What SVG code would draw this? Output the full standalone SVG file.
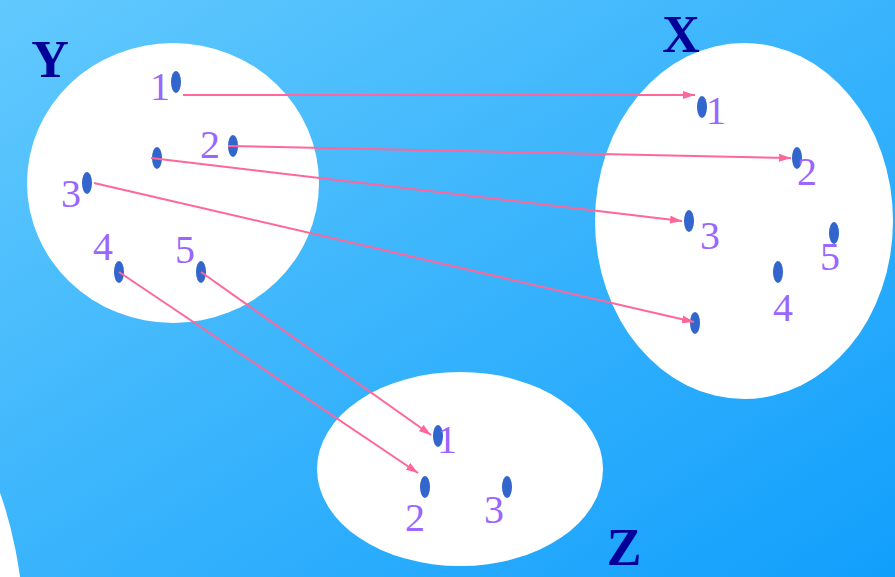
<svg xmlns="http://www.w3.org/2000/svg" width="895" height="577" viewBox="0 0 895 577">
<defs>
<linearGradient id="bg" x1="0" y1="0" x2="1" y2="1">
<stop offset="0" stop-color="#62c9fd"/>
<stop offset="1" stop-color="#119ffc"/>
</linearGradient>
<marker id="ah" viewBox="0 0 12 8" refX="12" refY="4" markerWidth="12" markerHeight="8" markerUnits="userSpaceOnUse" orient="auto">
<path d="M0,0 L12,4 L0,8 Z" fill="#ff6699"/>
</marker>
<style>
.set{fill:#ffffff}
.dot{fill:#3366cc}
.num{font-family:"Liberation Serif","Times New Roman",serif;font-size:40px;fill:#9966ff;text-anchor:middle}
.lbl{font-family:"Liberation Serif","Times New Roman",serif;font-size:52px;font-weight:bold;fill:#000099;text-anchor:middle}
.arr{stroke:#ff6699;stroke-width:2;fill:none;marker-end:url(#ah)}
</style>
</defs>
<rect x="0" y="0" width="895" height="577" fill="url(#bg)"/>
<ellipse class="set" cx="-100" cy="650" rx="125" ry="262"/>
<g id="setY">
<ellipse class="set" cx="173" cy="183" rx="146" ry="140"/>
<text class="lbl" x="50" y="77">Y</text>
</g>
<g id="setX">
<ellipse class="set" cx="744" cy="221" rx="149" ry="178"/>
<text class="lbl" x="681" y="52">X</text>
</g>
<g id="setZ">
<ellipse class="set" cx="460" cy="469" rx="143" ry="97"/>
<text class="lbl" x="624" y="565">Z</text>
</g>
<g id="y1"><ellipse class="dot" cx="176" cy="82" rx="5" ry="11"/><text class="num" x="160" y="100">1</text></g>
<g id="y2"><ellipse class="dot" cx="233" cy="146" rx="5" ry="11"/><text class="num" x="210" y="158">2</text></g>
<g id="y0"><ellipse class="dot" cx="157" cy="158" rx="5" ry="11"/></g>
<g id="y3"><ellipse class="dot" cx="87" cy="183" rx="5" ry="11"/><text class="num" x="71" y="207">3</text></g>
<g id="y4"><ellipse class="dot" cx="119" cy="272" rx="5" ry="11"/><text class="num" x="103" y="260">4</text></g>
<g id="y5"><ellipse class="dot" cx="201" cy="272" rx="5" ry="11"/><text class="num" x="185" y="263">5</text></g>
<g id="x1"><ellipse class="dot" cx="702" cy="107" rx="5" ry="11"/><text class="num" x="716" y="124">1</text></g>
<g id="x2"><ellipse class="dot" cx="797" cy="158" rx="5" ry="11"/><text class="num" x="807" y="185">2</text></g>
<g id="x3"><ellipse class="dot" cx="689" cy="221" rx="5" ry="11"/><text class="num" x="710" y="249">3</text></g>
<g id="x0"><ellipse class="dot" cx="695" cy="323" rx="5" ry="11"/></g>
<g id="x4"><ellipse class="dot" cx="778" cy="272" rx="5" ry="11"/><text class="num" x="783" y="321">4</text></g>
<g id="x5"><ellipse class="dot" cx="834" cy="233" rx="5" ry="11"/><text class="num" x="830" y="270">5</text></g>
<g id="z1"><ellipse class="dot" cx="438" cy="436" rx="5" ry="11"/><text class="num" x="447" y="453">1</text></g>
<g id="z2"><ellipse class="dot" cx="425" cy="487" rx="5" ry="11"/><text class="num" x="415" y="531">2</text></g>
<g id="z3"><ellipse class="dot" cx="507" cy="487" rx="5" ry="11"/><text class="num" x="494" y="523">3</text></g>
<g id="connectors">
<line class="arr" x1="183" y1="95" x2="695" y2="95"/>
<line class="arr" x1="228" y1="146" x2="791" y2="158"/>
<line class="arr" x1="151" y1="158" x2="682" y2="221"/>
<line class="arr" x1="94" y1="183" x2="694" y2="322"/>
<line class="arr" x1="119" y1="272" x2="418" y2="473"/>
<line class="arr" x1="201" y1="272" x2="431" y2="435"/>
</g>
</svg>
